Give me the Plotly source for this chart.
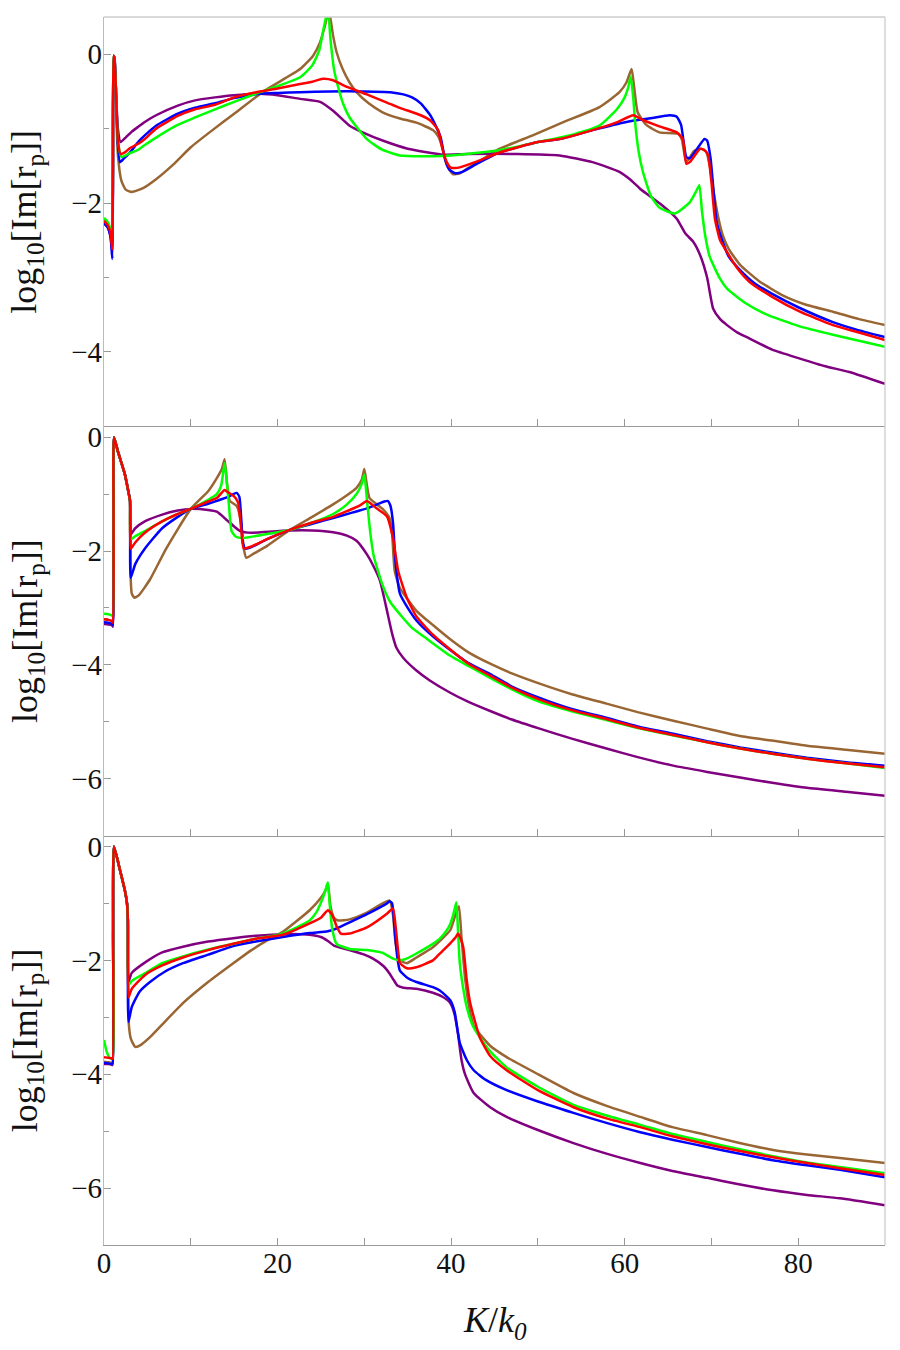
import plotly.graph_objects as go
from plotly.subplots import make_subplots

# ---------------- data ----------------
# Panel 1
P1_BLUE_X = [0, 0.4, 0.75, 0.96, 1.04, 1.12, 1.22, 1.4, 1.6, 1.85, 2.3, 3, 4, 4.7, 6, 8.5, 10.5, 12.8, 15, 18, 20, 22.6, 26, 30, 33, 34.5, 35.5, 36.5, 37.6, 38.3, 38.8, 39.3, 39.8, 40.5, 41.3, 43, 45.6, 50, 52.5, 56.3, 60.2, 63, 65.2, 66.0, 66.5, 67.1, 67.5, 68.3, 69.2, 69.5, 69.9, 70.6, 71.3, 72, 73.3, 75, 77, 80, 84, 87, 90]
P1_BLUE_Y = [-2.27, -2.32, -2.45, -2.75, -1.6, -0.02, -0.05, -0.55, -1.2, -1.45, -1.40, -1.32, -1.17, -1.09, -0.96, -0.80, -0.72, -0.66, -0.59, -0.53, -0.52, -0.51, -0.50, -0.50, -0.51, -0.54, -0.58, -0.66, -0.82, -0.98, -1.12, -1.41, -1.55, -1.6, -1.58, -1.47, -1.32, -1.18, -1.14, -1.02, -0.91, -0.86, -0.82, -0.84, -0.95, -1.38, -1.40, -1.28, -1.14, -1.16, -1.40, -2.25, -2.52, -2.72, -2.9, -3.08, -3.22, -3.4, -3.6, -3.71, -3.80]

P1_RED_X = [0, 0.4, 0.75, 0.95, 1.03, 1.1, 1.2, 1.4, 1.6, 1.9, 2.4, 3, 4, 4.7, 6, 8.5, 10.5, 12.8, 15, 18, 20, 22.6, 24, 25.2, 26.4, 28, 30.3, 34.1, 36.5, 37.6, 38.5, 39, 39.5, 39.9, 40.5, 41, 43, 45.6, 50, 52.5, 56.3, 59, 61, 62, 64, 66, 66.7, 67.1, 67.5, 68.7, 69.2, 69.6, 70, 70.4, 71, 71.8, 73, 74.4, 77, 80.2, 84, 87, 90]
P1_RED_Y = [-2.24, -2.29, -2.4, -2.62, -1.5, -0.02, -0.05, -0.55, -1.15, -1.34, -1.32, -1.26, -1.20, -1.14, -1.0, -0.83, -0.74, -0.68, -0.58, -0.50, -0.46, -0.40, -0.37, -0.33, -0.35, -0.44, -0.54, -0.72, -0.82, -0.89, -1.02, -1.27, -1.45, -1.52, -1.53, -1.52, -1.44, -1.32, -1.18, -1.14, -1.02, -0.92, -0.82, -0.88, -0.97, -1.05, -1.14, -1.47, -1.45, -1.27, -1.29, -1.35, -1.72, -2.21, -2.5, -2.66, -2.88, -3.06, -3.26, -3.46, -3.64, -3.74, -3.84]

P1_GREEN_X = [0, 0.4, 0.75, 0.95, 1.03, 1.1, 1.2, 1.4, 1.6, 2.0, 2.5, 3, 4, 4.7, 6, 8.5, 10.5, 12.8, 15, 18, 20, 22.6, 24, 24.8, 25.3, 25.8, 26.1, 26.5, 27.0, 27.6, 28.3, 30.3, 32, 34.1, 37.9, 40, 41.8, 45.6, 50, 54, 57.1, 59.1, 60.0, 60.4, 60.7, 61.0, 61.2, 61.6, 62.1, 63, 64, 65.8, 67.5, 68.2, 68.6, 68.9, 69.3, 69.8, 71, 71.8, 74, 76.4, 80, 84, 87, 90]
P1_GREEN_Y = [-2.20, -2.25, -2.35, -2.55, -1.5, -0.02, -0.05, -0.55, -1.15, -1.38, -1.36, -1.33, -1.28, -1.22, -1.12, -0.95, -0.85, -0.74, -0.64, -0.51, -0.43, -0.31, -0.15, 0.05, 0.34, 0.6, 0.2, -0.2, -0.45, -0.68, -0.85, -1.14, -1.28, -1.36, -1.37, -1.36, -1.34, -1.29, -1.18, -1.08, -0.96, -0.74, -0.58, -0.45, -0.30, -0.6, -0.91, -1.3, -1.58, -1.9, -2.06, -2.14, -1.99, -1.85, -1.76, -2.1, -2.45, -2.72, -3.02, -3.15, -3.35, -3.50, -3.65, -3.77, -3.85, -3.93]

P1_BROWN_X = [0, 0.4, 0.75, 0.95, 1.03, 1.1, 1.2, 1.35, 1.6, 2.0, 2.5, 3.2, 4.5, 6, 8, 10, 12.5, 15, 18.5, 22.6, 24.1, 24.9, 25.5, 25.9, 26.4, 26.8, 27.5, 28.3, 29.1, 30.5, 32.1, 34, 36, 37.9, 38.5, 38.9, 39.5, 40.2, 41, 41.8, 43.5, 45.6, 49.4, 53, 57.1, 59.4, 60.2, 60.8, 61.1, 61.5, 62.5, 64, 66.2, 66.6, 67.1, 68.0, 68.8, 69.4, 69.8, 70.2, 70.8, 71.3, 72, 73.3, 75.5, 78.2, 81, 84, 87, 90]
P1_BROWN_Y = [-2.22, -2.27, -2.37, -2.58, -1.5, -0.02, -0.05, -0.6, -1.35, -1.7, -1.82, -1.85, -1.80, -1.68, -1.48, -1.25, -1.02, -0.80, -0.49, -0.20, -0.02, 0.16, 0.4, 0.6, 0.25, 0.03, -0.20, -0.38, -0.51, -0.66, -0.78, -0.86, -0.92, -1.02, -1.10, -1.22, -1.49, -1.61, -1.60, -1.54, -1.42, -1.27, -1.09, -0.91, -0.71, -0.51, -0.38, -0.20, -0.45, -0.78, -0.95, -1.05, -1.07, -1.15, -1.45, -1.30, -1.27, -1.31, -1.5, -1.81, -2.2, -2.43, -2.62, -2.83, -3.05, -3.24, -3.37, -3.46, -3.56, -3.64]

P1_PURPLE_X = [0, 0.4, 0.75, 0.95, 1.03, 1.1, 1.2, 1.4, 1.6, 1.9, 2.5, 3.2, 4, 4.7, 6, 8.5, 10.5, 12.8, 15, 18, 20, 22.6, 24.9, 26.4, 28.3, 30, 32.1, 35, 39, 41.8, 47.6, 52.5, 56.3, 59.4, 60.6, 61.8, 64.1, 66, 67, 67.9, 68.7, 69.5, 70.2, 71, 71.8, 73, 74.4, 77, 80.2, 83, 85.9, 90]
P1_PURPLE_Y = [-2.27, -2.32, -2.45, -2.65, -1.5, -0.02, -0.05, -0.55, -1.0, -1.18, -1.12, -1.04, -0.97, -0.91, -0.82, -0.69, -0.62, -0.58, -0.55, -0.53, -0.55, -0.60, -0.64, -0.76, -0.96, -1.06, -1.16, -1.27, -1.35, -1.34, -1.34, -1.36, -1.45, -1.58, -1.68, -1.81, -2.01, -2.21, -2.41, -2.52, -2.70, -3.0, -3.42, -3.56, -3.64, -3.74, -3.82, -3.97, -4.09, -4.19, -4.27, -4.43]

# Panel 2
P2_BLUE_X = [0, 0.5, 0.9, 1.03, 1.1, 1.15, 1.6, 2.4, 2.8, 3.0, 3.08, 3.6, 4.7, 6.7, 8.5, 10, 12, 13, 14.3, 14.9, 15.3, 15.6, 15.8, 16.0, 16.3, 17, 18.8, 21.4, 24, 26.4, 28.5, 30.3, 31.5, 32.3, 32.7, 33.0, 33.3, 33.6, 34.1, 35, 36, 37.9, 39.9, 42, 44.5, 47, 50.2, 54, 57.9, 61.5, 65.6, 69.5, 73.3, 77, 81, 85.5, 90]
P2_BLUE_Y = [-3.25, -3.26, -3.28, -3.3, -1.5, 0, -0.25, -0.65, -0.95, -1.12, -2.47, -2.23, -1.96, -1.6, -1.4, -1.26, -1.17, -1.12, -1.05, -1.0, -0.98, -1.05, -1.4, -1.85, -1.96, -1.93, -1.79, -1.63, -1.52, -1.42, -1.33, -1.25, -1.18, -1.13, -1.12, -1.2, -1.5, -2.2, -2.75, -3.0, -3.22, -3.50, -3.74, -3.97, -4.16, -4.38, -4.58, -4.78, -4.93, -5.08, -5.21, -5.34, -5.45, -5.54, -5.63, -5.71, -5.77]

P2_RED_X = [0, 0.5, 0.9, 1.03, 1.1, 1.15, 1.6, 2.4, 2.8, 3.0, 3.08, 3.6, 4.7, 6.7, 8.5, 10, 12, 13, 13.9, 14.3, 14.9, 15.3, 15.5, 15.8, 16.1, 17, 18.8, 21.4, 24, 26.4, 28, 29.5, 30.3, 31.4, 32.6, 33.3, 33.9, 34.9, 36, 37.9, 39.9, 42, 44.5, 47, 50.2, 54, 57.9, 61.5, 65.6, 69.5, 73.3, 77, 81, 85.5, 90]
P2_RED_Y = [-3.20, -3.21, -3.23, -3.26, -1.5, 0, -0.25, -0.65, -0.95, -1.12, -1.96, -1.85, -1.68, -1.48, -1.35, -1.26, -1.13, -1.07, -0.93, -0.97, -1.03, -1.10, -1.18, -1.6, -1.95, -1.92, -1.79, -1.63, -1.50, -1.40, -1.30, -1.2, -1.12, -1.25, -1.39, -1.77, -2.35, -2.82, -3.15, -3.47, -3.73, -3.98, -4.19, -4.40, -4.61, -4.80, -4.95, -5.10, -5.23, -5.36, -5.47, -5.56, -5.65, -5.73, -5.80]

P2_GREEN_X = [0, 0.5, 0.9, 1.03, 1.1, 1.15, 1.6, 2.4, 2.8, 3.0, 3.08, 3.6, 4.7, 6.7, 8.5, 10, 12, 13, 13.5, 13.9, 14.1, 14.4, 14.7, 15.2, 16, 18.8, 21.4, 24, 26.4, 28, 29.1, 29.7, 30.0, 30.3, 30.7, 31.1, 32.1, 33, 34.1, 35.5, 37.1, 39.9, 42, 44.5, 47, 50.2, 54, 57.9, 61.5, 65.6, 69.5, 73.3, 77, 81, 85.5, 90]
P2_GREEN_Y = [-3.10, -3.11, -3.13, -3.15, -1.5, 0, -0.25, -0.65, -0.95, -1.12, -1.79, -1.74, -1.65, -1.48, -1.35, -1.26, -1.1, -1.0, -0.85, -0.46, -0.7, -1.2, -1.65, -1.75, -1.77, -1.70, -1.63, -1.5, -1.35, -1.18, -1.0, -0.82, -0.66, -1.1, -1.7, -2.1, -2.6, -2.9, -3.11, -3.35, -3.53, -3.84, -4.02, -4.23, -4.43, -4.65, -4.82, -4.97, -5.11, -5.24, -5.36, -5.47, -5.56, -5.65, -5.73, -5.81]

P2_BROWN_X = [0, 0.5, 0.9, 1.03, 1.1, 1.15, 1.6, 2.4, 2.8, 3.0, 3.08, 3.2, 3.5, 4, 5.3, 7.2, 10, 12, 13, 13.6, 13.9, 14.2, 14.5, 15.3, 15.8, 16.1, 16.4, 17.2, 18.8, 21.4, 24, 26.4, 28, 29.1, 29.7, 30.0, 30.3, 30.6, 32.1, 32.9, 33.2, 33.5, 34.1, 36, 37.9, 39.9, 42, 44.5, 47, 50.2, 54, 57.9, 61.5, 65.6, 69.5, 73.3, 77, 81, 85.5, 90]
P2_BROWN_Y = [-3.20, -3.21, -3.23, -3.26, -1.5, 0, -0.25, -0.65, -0.95, -1.12, -2.5, -2.75, -2.82, -2.78, -2.5, -1.95, -1.26, -0.95, -0.72, -0.55, -0.39, -0.85, -1.12, -1.21, -1.5, -1.95, -2.12, -2.05, -1.91, -1.63, -1.40, -1.18, -1.02, -0.89, -0.75, -0.56, -0.85, -1.07, -1.26, -1.42, -1.7, -2.35, -2.65, -3.05, -3.30, -3.55, -3.78, -3.98, -4.15, -4.33, -4.52, -4.68, -4.83, -4.98, -5.12, -5.25, -5.33, -5.42, -5.49, -5.56]

P2_PURPLE_X = [0, 0.5, 0.9, 1.03, 1.1, 1.15, 1.6, 2.4, 2.8, 3.0, 3.08, 3.6, 4.7, 6.7, 8.5, 10, 12, 13, 14.1, 15, 15.7, 17, 19, 21.4, 24, 26.4, 28, 29.1, 30.3, 31, 31.8, 32.7, 33.2, 33.7, 34.5, 36, 37.5, 39.9, 42, 44.5, 47, 50.2, 54, 57.9, 61.5, 65.6, 69.5, 73.3, 77, 81, 85.5, 90]
P2_PURPLE_Y = [-3.28, -3.29, -3.3, -3.33, -1.5, 0, -0.25, -0.65, -0.95, -1.12, -1.71, -1.6, -1.48, -1.36, -1.29, -1.26, -1.28, -1.31, -1.45, -1.57, -1.65, -1.68, -1.66, -1.64, -1.64, -1.67, -1.73, -1.82, -2.06, -2.25, -2.52, -3.11, -3.45, -3.70, -3.88, -4.1, -4.27, -4.49, -4.65, -4.81, -4.96, -5.12, -5.30, -5.47, -5.62, -5.77, -5.88, -5.98, -6.07, -6.16, -6.23, -6.30]

# Panel 3
P3_BLUE_X = [0, 0.5, 0.85, 0.98, 1.05, 1.15, 1.85, 2.4, 2.65, 2.75, 2.82, 3.2, 4.1, 5.3, 7, 9.1, 12, 14.9, 17.5, 20.6, 23.7, 25.8, 26.8, 28.5, 30.3, 31.8, 32.6, 32.9, 33.2, 33.5, 33.8, 34.1, 34.9, 36, 37.9, 38.7, 39.9, 40.4, 41, 41.8, 42.6, 44, 46.4, 50, 54.1, 58, 61.8, 65.5, 69.5, 73, 77.1, 81, 84.8, 90]
P3_BLUE_Y = [-3.80, -3.81, -3.82, -3.82, -1.5, 0, -0.42, -0.77, -1.0, -1.3, -3.08, -2.82, -2.55, -2.38, -2.2, -2.05, -1.9, -1.75, -1.67, -1.59, -1.52, -1.49, -1.44, -1.32, -1.19, -1.07, -1.0, -0.96, -1.0, -1.47, -1.95, -2.18, -2.30, -2.38, -2.47, -2.53, -2.70, -2.9, -3.45, -3.75, -3.93, -4.1, -4.28, -4.48, -4.68, -4.86, -5.02, -5.15, -5.28, -5.39, -5.51, -5.60, -5.68, -5.81]

P3_RED_X = [0, 0.5, 0.85, 0.98, 1.05, 1.15, 1.85, 2.4, 2.65, 2.75, 2.82, 3.2, 4.7, 6.7, 9.1, 12, 14.9, 17.5, 20.6, 23.7, 25.0, 25.8, 26.3, 26.8, 27.3, 28.3, 30.3, 32.6, 33.3, 33.6, 33.9, 34.1, 34.9, 36, 37.9, 38.7, 39.9, 40.5, 40.8, 41.1, 41.4, 41.8, 42.2, 43.3, 44.5, 46.4, 50, 54.1, 58, 61.8, 65.5, 69.5, 73, 77.1, 81, 84.8, 90]
P3_RED_Y = [-3.70, -3.71, -3.72, -3.73, -1.5, 0, -0.42, -0.77, -1.0, -1.3, -2.65, -2.5, -2.26, -2.09, -1.95, -1.82, -1.71, -1.62, -1.55, -1.35, -1.25, -1.12, -1.2, -1.4, -1.53, -1.53, -1.42, -1.18, -1.09, -1.4, -1.85, -2.05, -2.14, -2.12, -2.0, -1.88, -1.7, -1.6, -1.53, -1.62, -1.77, -2.35, -2.75, -3.35, -3.68, -3.93, -4.28, -4.58, -4.78, -4.93, -5.09, -5.23, -5.34, -5.46, -5.56, -5.65, -5.77]

P3_GREEN_X = [0, 0.3, 0.7, 0.98, 1.05, 1.15, 1.85, 2.4, 2.65, 2.75, 2.82, 3.2, 4.7, 6.7, 9.1, 12, 14.9, 17.5, 20.6, 23.7, 24.5, 25.1, 25.5, 25.8, 26.0, 26.3, 26.8, 28.3, 30.3, 32.1, 33.3, 34.1, 35, 36, 37.9, 38.7, 39.5, 39.9, 40.3, 40.6, 40.8, 41.0, 41.4, 41.8, 42.5, 43.3, 44.5, 46.4, 50, 54.1, 58, 61.8, 65.5, 69.5, 73, 77.1, 81, 84.8, 90]
P3_GREEN_Y = [-3.40, -3.6, -3.72, -3.72, -1.5, 0, -0.42, -0.77, -1.0, -1.3, -2.44, -2.36, -2.23, -2.05, -1.93, -1.81, -1.71, -1.62, -1.53, -1.30, -1.15, -0.95, -0.78, -0.63, -1.0, -1.45, -1.71, -1.80, -1.82, -1.87, -1.97, -2.0, -1.96, -1.88, -1.71, -1.62, -1.47, -1.36, -1.17, -0.98, -1.5, -2.05, -2.5, -2.82, -3.15, -3.35, -3.6, -3.88, -4.22, -4.54, -4.73, -4.89, -5.05, -5.19, -5.31, -5.44, -5.55, -5.63, -5.74]

P3_BROWN_X = [0, 0.5, 0.85, 0.98, 1.05, 1.15, 1.85, 2.4, 2.65, 2.75, 2.85, 3.1, 3.6, 4.3, 5.3, 7, 9.1, 12, 14.9, 17, 18.8, 20.6, 23.7, 25.0, 25.5, 25.8, 26.1, 26.5, 27, 28.3, 30.3, 32.9, 33.3, 33.6, 34.1, 34.9, 36, 37.9, 39.9, 40.3, 40.6, 40.9, 41.2, 41.6, 42.0, 42.6, 44.5, 46.4, 50, 54.1, 58, 61.8, 65.5, 69.5, 73, 77.1, 81, 84.8, 90]
P3_BROWN_Y = [-3.78, -3.79, -3.8, -3.8, -1.5, 0, -0.42, -0.77, -1.0, -1.3, -3.1, -3.38, -3.52, -3.48, -3.35, -3.08, -2.75, -2.38, -2.05, -1.82, -1.65, -1.50, -1.12, -0.9, -0.78, -0.66, -1.05, -1.25, -1.30, -1.28, -1.16, -0.95, -1.2, -1.7, -2.0, -2.05, -1.95, -1.77, -1.47, -1.3, -1.15, -1.05, -1.6, -2.3, -2.75, -3.15, -3.5, -3.7, -4.0, -4.33, -4.56, -4.75, -4.93, -5.07, -5.2, -5.33, -5.41, -5.47, -5.56]

P3_PURPLE_X = [0, 0.5, 0.85, 0.98, 1.05, 1.15, 1.85, 2.4, 2.65, 2.75, 2.82, 3.2, 4.7, 6.7, 9.1, 12, 14.9, 17.5, 20.6, 23.7, 25.0, 25.8, 26.5, 28.3, 30, 31, 32.2, 32.9, 33.4, 33.8, 34.5, 36, 37.9, 39, 39.9, 40.4, 40.8, 41.2, 41.6, 42.6, 44.5, 46.4, 50, 54.1, 58, 61.8, 65.5, 69.5, 73, 77.1, 81, 84.8, 90]
P3_PURPLE_Y = [-3.82, -3.82, -3.83, -3.84, -1.5, 0, -0.42, -0.77, -1.0, -1.3, -2.38, -2.22, -2.04, -1.86, -1.76, -1.67, -1.61, -1.57, -1.54, -1.55, -1.59, -1.66, -1.74, -1.82, -1.9, -1.97, -2.1, -2.23, -2.35, -2.44, -2.48, -2.5, -2.57, -2.64, -2.75, -2.95, -3.3, -3.75, -4.0, -4.33, -4.58, -4.75, -4.98, -5.21, -5.4, -5.56, -5.7, -5.82, -5.93, -6.04, -6.12, -6.18, -6.30]

SERIES_ORDER = ["brown", "purple", "blue", "green", "red"]
COLORS = {"blue": "#0000FF", "red": "#FF0000", "green": "#00FF00",
          "brown": "#996633", "purple": "#800080"}

PANELS = [
    {"blue": (P1_BLUE_X, P1_BLUE_Y), "red": (P1_RED_X, P1_RED_Y), "green": (P1_GREEN_X, P1_GREEN_Y),
     "brown": (P1_BROWN_X, P1_BROWN_Y), "purple": (P1_PURPLE_X, P1_PURPLE_Y)},
    {"blue": (P2_BLUE_X, P2_BLUE_Y), "red": (P2_RED_X, P2_RED_Y), "green": (P2_GREEN_X, P2_GREEN_Y),
     "brown": (P2_BROWN_X, P2_BROWN_Y), "purple": (P2_PURPLE_X, P2_PURPLE_Y)},
    {"blue": (P3_BLUE_X, P3_BLUE_Y), "red": (P3_RED_X, P3_RED_Y), "green": (P3_GREEN_X, P3_GREEN_Y),
     "brown": (P3_BROWN_X, P3_BROWN_Y), "purple": (P3_PURPLE_X, P3_PURPLE_Y)},
]
Y_RANGES = [[-5, 0.5], [-7, 0.19], [-7, 0.19]]
X_TICKS = [0, 20, 40, 60, 80]
Y_TICKS = [0, -2, -4, -6]

FONT = "Liberation Serif"
AX_DARK = "#999999"
AX_LIGHT = "#cccccc"

fig = make_subplots(rows=3, cols=1, shared_xaxes=True, vertical_spacing=0)

for i, panel in enumerate(PANELS):
    for name in SERIES_ORDER:
        xs, ys = panel[name]
        fig.add_trace(go.Scatter(x=xs, y=ys, mode="lines",
                                 line=dict(color=COLORS[name], width=2.5,
                                           shape="spline", smoothing=0.5),
                                 showlegend=False, hoverinfo="skip"),
                      row=i + 1, col=1)

for i in range(3):
    fig.update_xaxes(range=[0, 90], showgrid=False, zeroline=False,
                     showline=True, linecolor=AX_DARK, linewidth=1.3,
                     ticks="inside", ticklen=7, tickcolor=AX_DARK, tickwidth=1,
                     tickvals=X_TICKS, ticktext=[str(v) for v in X_TICKS],
                     minor=dict(ticks="inside", ticklen=7, tickcolor=AX_DARK, dtick=10, tick0=0),
                     showticklabels=(i == 2), ticklabelstandoff=-8,
                     tickfont=dict(family=FONT, size=29, color="#111111"),
                     row=i + 1, col=1)
    fig.update_yaxes(range=Y_RANGES[i], showgrid=False, zeroline=False,
                     showline=True, linecolor="#bbbbbb", linewidth=1.3,
                     ticks="inside", ticklen=7, tickcolor=AX_DARK, tickwidth=1,
                     tickvals=Y_TICKS, ticktext=["0", "\u22122", "\u22124", "\u22126"],
                     minor=dict(ticks="inside", ticklen=5, tickcolor=AX_DARK, dtick=1, tick0=0),
                     ticklabelstandoff=-5,
                     tickfont=dict(family=FONT, size=29, color="#111111"),
                     row=i + 1, col=1)

# frame: top and right edges (light)
fig.add_shape(type="line", xref="paper", yref="paper", x0=0, x1=1, y0=1, y1=1,
              line=dict(color=AX_LIGHT, width=1.3))
fig.add_shape(type="line", xref="paper", yref="paper", x0=1, x1=1, y0=0, y1=1,
              line=dict(color=AX_LIGHT, width=1.3))

# axis titles
ylab = "log<sub>10</sub>[Im[r<sub>p</sub>]]"
for yc in [5 / 6, 0.5, 1 / 6]:
    fig.add_annotation(text=ylab, xref="paper", yref="paper", x=-0.0986, y=yc,
                       xanchor="center", yanchor="middle", textangle=-90, showarrow=False,
                       font=dict(family=FONT, size=36, color="#111111"))
fig.add_annotation(text="<i>K</i>/<i>k</i><sub><i>0</i></sub>", xref="paper", yref="paper",
                   x=0.5, y=-0.0634, xanchor="center", yanchor="middle", showarrow=False,
                   font=dict(family=FONT, size=36, color="#111111"))

fig.update_layout(width=900, height=1350, margin=dict(l=104, r=15, t=15, b=105),
                  paper_bgcolor="white", plot_bgcolor="white",
                  font=dict(family=FONT))

fig.write_html("out.html")
